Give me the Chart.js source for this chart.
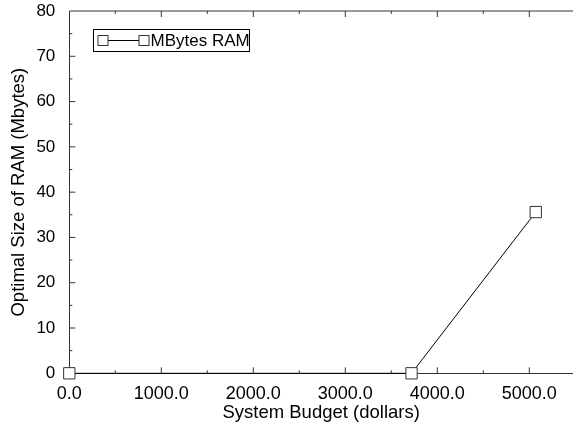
<!DOCTYPE html>
<html>
  <head>
    <title>Optimal RAM vs budget</title>
    <script src="https://cdn.jsdelivr.net/npm/chart.js"></script>
    <style>
      html, body { margin: 0; padding: 0; background: #fff; }
      .chart-container { width: 573px; height: 430px; }
    </style>
  </head>
  <body>
    <div class="chart-container">
      <canvas id="ram-chart"></canvas>
    </div>

    <script>
      // data
      const budgets = [0, 3720, 5070];
      const ramMbytes = [0, 0, 35.6];
      const seriesLabel = 'MBytes RAM';

      // axis ticks
      const xMajorTicks = [0, 1000, 2000, 3000, 4000, 5000];
      const xTickLabels = ['0.0', '1000.0', '2000.0', '3000.0', '4000.0', '5000.0'];
      const xMinorTicks = [500, 1500, 2500, 3500, 4500];
      const yMajorTicks = [0, 10, 20, 30, 40, 50, 60, 70, 80];
      const yTickLabels = ['0', '10', '20', '30', '40', '50', '60', '70', '80'];
      const yMinorTicks = [5, 15, 25, 35, 45, 55, 65, 75];

      const FONT = '"Liberation Sans", Arial, Helvetica, sans-serif';
      const AXIS_COLOR = '#333';

      // ticks drawn inside the plot, top border line and the boxed legend
      const framePlugin = {
        id: 'frame',
        afterDraw(chart) {
          const ctx = chart.ctx;
          const area = chart.chartArea;
          const xs = chart.scales.x;
          const ys = chart.scales.y;
          ctx.save();
          ctx.strokeStyle = AXIS_COLOR;
          ctx.lineWidth = 1;
          ctx.beginPath();
          ctx.moveTo(area.left, area.top);
          ctx.lineTo(area.right, area.top);
          const xTick = (v, len) => {
            const px = xs.getPixelForValue(v);
            ctx.moveTo(px, area.bottom);
            ctx.lineTo(px, area.bottom - len);
            ctx.moveTo(px, area.top);
            ctx.lineTo(px, area.top + len);
          };
          xMajorTicks.forEach(v => { if (v > 0) xTick(v, 6); });
          xMinorTicks.forEach(v => xTick(v, 3));
          const yTick = (v, len) => {
            const py = ys.getPixelForValue(v);
            ctx.moveTo(area.left, py);
            ctx.lineTo(area.left + len, py);
          };
          yMajorTicks.forEach(v => { if (v > 0 && v < 80) yTick(v, 6); });
          yMinorTicks.forEach(v => yTick(v, 3));
          ctx.stroke();

          // legend
          const bx = 93.5, by = 29.5, bw = 156, bh = 22;
          const cy = by + bh / 2;
          ctx.fillStyle = '#fff';
          ctx.fillRect(bx, by, bw, bh);
          ctx.strokeStyle = '#000';
          ctx.strokeRect(bx, by, bw, bh);
          ctx.beginPath();
          ctx.moveTo(103, cy);
          ctx.lineTo(144, cy);
          ctx.stroke();
          [103, 144].forEach(px => {
            ctx.fillStyle = '#fff';
            ctx.fillRect(px - 5, cy - 5, 10, 10);
            ctx.strokeStyle = AXIS_COLOR;
            ctx.strokeRect(px - 5, cy - 5, 10, 10);
          });
          ctx.fillStyle = '#000';
          ctx.font = '17px ' + FONT;
          ctx.textBaseline = 'middle';
          ctx.textAlign = 'left';
          ctx.fillText(seriesLabel, 150.5, cy + 0.5);
          ctx.restore();
        }
      };

      const ctx = document.getElementById('ram-chart').getContext('2d');
      new Chart(ctx, {
        type: 'line',
        data: {
          datasets: [{
            label: seriesLabel,
            data: budgets.map((b, i) => ({ x: b, y: ramMbytes[i] })),
            borderColor: '#000',
            borderWidth: 1,
            pointStyle: 'rect',
            pointRadius: 8,
            pointBorderWidth: 1,
            pointBorderColor: AXIS_COLOR,
            pointBackgroundColor: '#fff',
            tension: 0,
            clip: false
          }]
        },
        options: {
          responsive: true,
          maintainAspectRatio: false,
          animation: false,
          layout: { autoPadding: false, padding: { top: 11, right: 0, bottom: 0, left: 0 } },
          plugins: {
            legend: { display: false },
            tooltip: { enabled: false }
          },
          scales: {
            x: {
              type: 'linear',
              min: 0,
              max: 5475,
              afterBuildTicks: scale => {
                scale.ticks = xMajorTicks.map(v => ({ value: v }));
              },
              afterFit: scale => {
                scale.height = 56.7;
                scale.paddingLeft = 0;
                scale.paddingRight = 0;
              },
              grid: { display: false, drawTicks: false },
              border: { display: true, color: AXIS_COLOR, width: 1 },
              ticks: {
                padding: 10,
                color: '#000',
                font: { family: FONT, size: 18 },
                maxRotation: 0,
                callback: v => xTickLabels[xMajorTicks.indexOf(v)]
              },
              title: {
                display: true,
                text: 'System Budget (dollars)',
                color: '#000',
                font: { family: FONT, size: 18.5 },
                padding: { top: 0, bottom: 6 }
              }
            },
            y: {
              type: 'linear',
              min: 0,
              max: 80,
              afterBuildTicks: scale => {
                scale.ticks = yMajorTicks.map(v => ({ value: v }));
              },
              afterFit: scale => {
                scale.width = 69.3;
                scale.paddingTop = 0;
                scale.paddingBottom = 0;
              },
              grid: { display: false, drawTicks: false },
              border: { display: true, color: AXIS_COLOR, width: 1 },
              ticks: {
                padding: 14,
                color: '#000',
                font: { family: FONT, size: 17 },
                callback: v => yTickLabels[yMajorTicks.indexOf(v)]
              },
              title: {
                display: true,
                text: 'Optimal Size of RAM (Mbytes)',
                color: '#000',
                font: { family: FONT, size: 18.5 },
                padding: { top: 7.5, bottom: 0 }
              }
            }
          }
        },
        plugins: [framePlugin]
      });
    </script>
  </body>
</html>
